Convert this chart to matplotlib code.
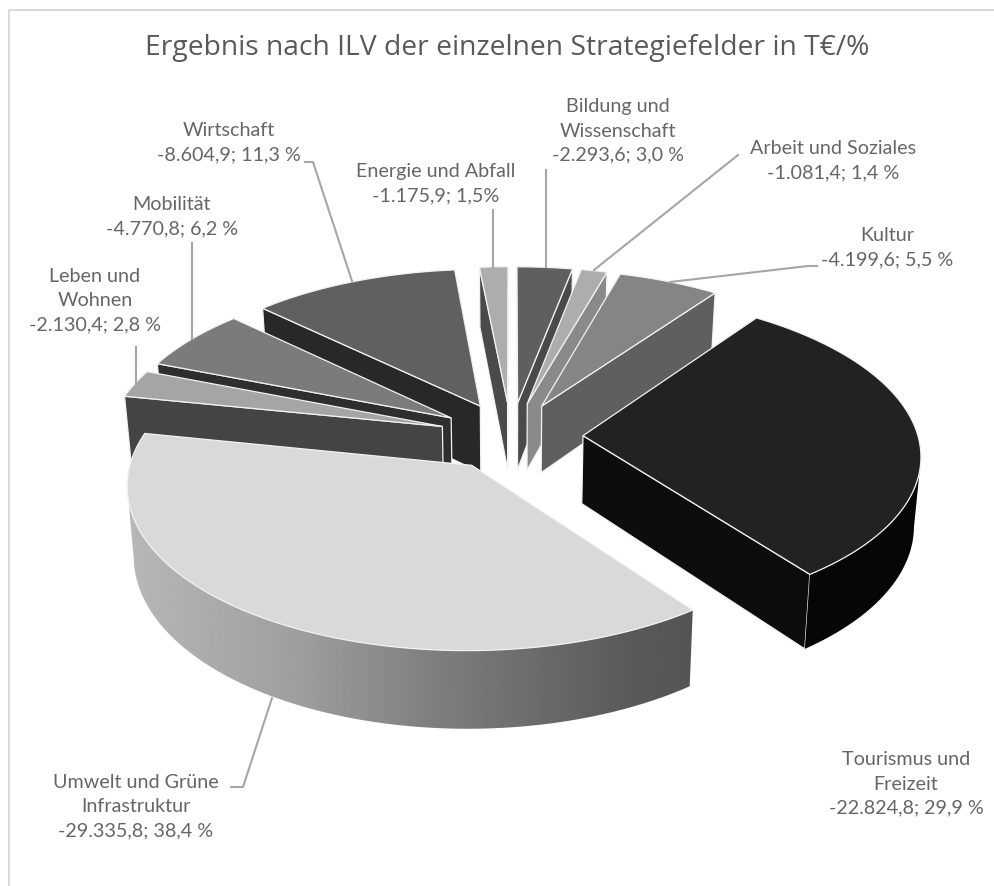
import numpy as np
from matplotlib import pyplot as plt
from matplotlib.patches import Polygon

# data, clockwise from the top
names = ['Bildung und\nWissenschaft', 'Arbeit und Soziales', 'Kultur', 'Tourismus und\nFreizeit',
         'Umwelt und Grüne\nInfrastruktur', 'Leben und\nWohnen', 'Mobilität', 'Wirtschaft', 'Energie und Abfall']
values = [-2293.6, -1081.4, -4199.6, -22824.8, -29335.8, -2130.4, -4770.8, -8604.9, -1175.9]
percents = ['3,0 %', '1,4 %', '5,5 %', '29,9 %', '38,4 %', '2,8 %', '6,2 %', '11,3 %', '1,5%']

top_colors = ['#5f5f5f', '#adadad', '#858585', '#222222', '#d9d9d9', '#a5a5a5', '#7b7b7b', '#606060', '#adadad']
side_colors = ['#4a4a4a', '#8a8a8a', '#5f5f5f', '#0d0d0d', '#777777', '#444444', '#2e2e2e', '#282828', '#4a4a4a']

label_pos = [(618, 131), (833, 161), (887, 248), (906, 784), (136, 807), (95, 301), (172, 217), (229, 143), (436, 184)]

leaders = [[(546, 170), (546, 267)],
           [(738, 155), (594, 270)],
           [(817, 266), (808, 266), (670, 282)],
           [],
           [(231, 787), (243, 787), (272, 698)],
           [(136, 347), (136, 384)],
           [(192, 243), (192, 339)],
           [(305, 162), (313, 162), (352, 281)],
           [(493, 210), (493, 268)]]

# gradient of the big slice wall
wall_x = [127, 300, 430, 620, 693]
wall_gray = [0.72, 0.62, 0.50, 0.36, 0.33]

plt.rcParams['font.family'] = ['Open Sans', 'DejaVu Sans']

# perspective of the pie
cx, cy = 511, 436
rx, ry = 335, 158
persp = 0.11
depth = 68
explode = 0.215


def project(x, y, bottom=False):
    s = 1 / (1 + persp * y)
    px = cx + rx * x * s
    py = cy - ry * y * s
    if bottom:
        px = cx + (px - cx) * 0.983
        py = py + depth * s
    return px, py


def area(points):
    pts = np.array(points)
    return np.sum(pts[:, 0] * np.roll(pts[:, 1], -1) - np.roll(pts[:, 0], -1) * pts[:, 1])


def fmt_value(v):
    s = f'{v:,.1f}'
    return s.replace(',', 'X').replace('.', ',').replace('X', '.')


fig = plt.figure(figsize=(9.95, 8.86), dpi=100)
ax = fig.add_axes([0, 0, 1, 1])
ax.set_xlim(0, 995)
ax.set_ylim(886, 0)
ax.axis('off')

# chart frame, only left and top are in the crop
ax.plot([9, 9, 995], [886, 10, 10], color='#d9d9d9', lw=1.4)

total = sum(abs(v) for v in values)
edges = 2 * np.pi * np.cumsum([0] + [abs(v) / total for v in values])
mids = (edges[:-1] + edges[1:]) / 2

# far slices first
order = sorted(range(len(values)), key=lambda i: np.cos(mids[i]), reverse=True)

for z, i in enumerate(order):
    a0, a1 = edges[i], edges[i + 1]
    ox, oy = explode * np.sin(mids[i]), explode * np.cos(mids[i])
    ang = np.linspace(a0, a1, max(int(np.degrees(a1 - a0)), 2) + 1)
    rim_x = ox + np.sin(ang)
    rim_y = oy + np.cos(ang)
    top_rim = [project(x, y) for x, y in zip(rim_x, rim_y)]
    bot_rim = [project(x, y, True) for x, y in zip(rim_x, rim_y)]
    apex_top = project(ox, oy)
    apex_bot = project(ox, oy, True)
    base = 10 + z * 5

    # cut faces
    start = [apex_top, top_rim[0], bot_rim[0], apex_bot]
    end = [apex_top, top_rim[-1], bot_rim[-1], apex_bot]
    if area(start) < 0:
        ax.add_patch(Polygon(start, fc=side_colors[i], ec='#f2f2f2', lw=0.9, zorder=base))
    if area(end) > 0:
        ax.add_patch(Polygon(end, fc=side_colors[i], ec='#f2f2f2', lw=0.9, zorder=base))

    # outer wall as one piece
    vis = [k for k in range(len(ang) - 1) if top_rim[k + 1][0] < top_rim[k][0]]
    if vis:
        t = [top_rim[k] for k in vis] + [top_rim[vis[-1] + 1]]
        b = [bot_rim[k] for k in vis] + [bot_rim[vis[-1] + 1]]
        wall = t + b[::-1]
        if i == 4:
            patch = Polygon(wall, fc='none', ec='none', zorder=base + 1)
            ax.add_patch(patch)
            xs = np.linspace(wall_x[0], wall_x[-1], 300)
            grad = np.interp(xs, wall_x, wall_gray)[None, :]
            im = ax.imshow(grad, cmap='gray', vmin=0, vmax=1, aspect='auto', zorder=base + 1,
                           extent=(wall_x[0], wall_x[-1], 760, 400))
            im.set_clip_path(patch)
            ax.set_xlim(0, 995)
            ax.set_ylim(886, 0)
        else:
            col = '#060606' if i == 3 else side_colors[i]
            ax.add_patch(Polygon(wall, fc=col, ec='none', zorder=base + 1))

    # top
    ax.add_patch(Polygon([apex_top] + top_rim, fc=top_colors[i], ec='#f2f2f2', lw=0.9, zorder=base + 2))

for line in leaders:
    if line:
        xs, ys = zip(*line)
        ax.plot(xs, ys, color='#a6a6a6', lw=1.5, zorder=100)

for name, v, p, (x, y) in zip(names, values, percents, label_pos):
    ax.text(x, y, f'{name}\n{fmt_value(v)}; {p}', ha='center', va='center', multialignment='center',
            fontsize=14.2, color='#666666', linespacing=1.52, zorder=110,
            family=['Lato', 'DejaVu Sans'])

ax.text(507, 48, 'Ergebnis nach ILV der einzelnen Strategiefelder in T€/%', ha='center', va='center',
        fontsize=20.3, color='#595959', zorder=110)

fig.savefig('out.png', dpi=100)
